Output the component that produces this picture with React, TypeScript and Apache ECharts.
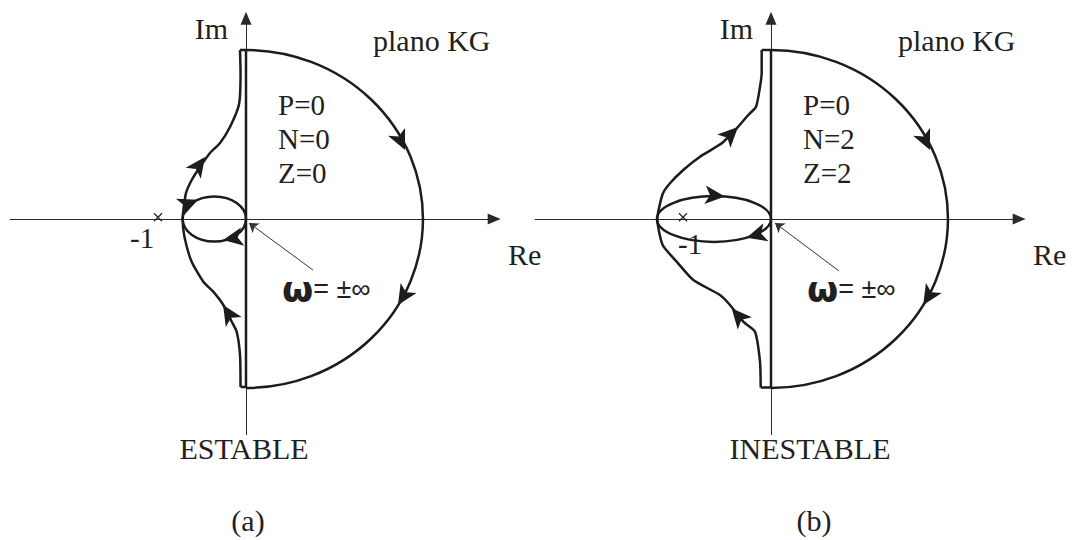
import React, { useEffect, useRef } from "react";
import * as echarts from "echarts";

// ---------- data (complex plane, 1 unit = distance from 0 to -1) ----------
const X_RANGE = [-2.68, 2.82];
const Y_RANGE = [-2.45, 2.28];

// Large right half-circle of the Nyquist contour: [centre Re, centre Im, radius Re, radius Im]
const SEMICIRCLE: number[] = [0, 0, 2.011, 1.92];

// Panel (a) – stable
const IMAG_A: number[][] = [[-0.068, 1.92], [0, 1.92], [0, -1.91], [-0.062, -1.91]];
const CURVE_A: number[][] = [
  [-0.068, 1.92], [-0.062, 1.66], [-0.08, 1.3], [-0.182, 1.045], [-0.295, 0.864], [-0.409, 0.75],
  [-0.523, 0.591], [-0.617, 0.443], [-0.682, 0.295], [-0.707, 0.136], [-0.72, 0], [-0.7, -0.2],
  [-0.62, -0.48], [-0.485, -0.712], [-0.372, -0.826], [-0.258, -0.977], [-0.162, -1.167],
  [-0.106, -1.281], [-0.068, -1.545], [-0.062, -1.91],
];
// small closed loop: [centre Re, centre Im, radius Re, radius Im]
const LOOP_A: number[] = [-0.36, 0, 0.36, 0.256];
// [re, im, direction in degrees]
const ARROWS_A: number[][] = [
  [1.807, 0.784, -65], [1.727, -0.977, -122], [-0.466, 0.705, 54], [-0.26, -0.977, 122],
  [-0.545, 0.22, 23], [-0.261, -0.24, 190],
];
const POINTER_A: number[][] = [[0.761, -0.58], [0.034, -0.045]];

// Panel (b) – unstable
const IMAG_B: number[][] = [[-0.106, 1.92], [0, 1.92], [0, -1.915], [-0.117, -1.915]];
const CURVE_B: number[][] = [
  [-0.106, 1.92], [-0.106, 1.656], [-0.125, 1.503], [-0.17, 1.276], [-0.258, 1.182], [-0.39, 1.031],
  [-0.56, 0.86], [-0.807, 0.708], [-0.997, 0.557], [-1.148, 0.406], [-1.231, 0.284], [-1.292, 0],
  [-1.231, -0.295], [-1.072, -0.485], [-0.883, -0.693], [-0.58, -0.864], [-0.466, -0.977],
  [-0.315, -1.167], [-0.182, -1.281], [-0.125, -1.622], [-0.117, -1.915],
];
const LOOP_B: number[] = [-0.648, 0, 0.648, 0.26];
const ARROWS_B: number[][] = [
  [1.807, 0.784, -65], [1.73, -0.977, -122], [-0.375, 1.045, 45], [-0.447, -1.015, 131],
  [-0.523, 0.255, -5], [-0.276, -0.213, 196],
];
const POINTER_B: number[][] = [[0.773, -0.591], [0.045, -0.045]];

const CRITICAL_POINT: number[][] = [[-1, 0.02]];

const PANEL_LABELS = [
  { P: "P=0", N: "N=0", Z: "Z=0", verdict: "ESTABLE", tag: "(a)" },
  { P: "P=0", N: "N=2", Z: "Z=2", verdict: "INESTABLE", tag: "(b)" },
];
const AXIS_LABELS = { im: "Im", re: "Re", plane: "plano KG", minusOne: "-1", omega: "ω", omegaRest: "= ±∞" };

// ---------- layout / style ----------
const UNIT = 88; // px per unit
const ORIGINS = [[246, 219], [771, 219]];
const MINUS_ONE_POS = [[130, 238], [678, 244]];
const VERDICT_X = [244, 810];
const TAG_X = [248, 814];
const INK = "#1c1c1c";
const SERIF = "'Liberation Serif', 'Times New Roman', serif";
const SANS_BOLD = "'DejaVu Sans', 'Liberation Sans', Arial, sans-serif";
const SANS = "'Liberation Sans', Arial, sans-serif";

function buildOption() {
  const panels = [
    { imag: IMAG_A, curve: CURVE_A, loop: LOOP_A, arrows: ARROWS_A, pointer: POINTER_A },
    { imag: IMAG_B, curve: CURVE_B, loop: LOOP_B, arrows: ARROWS_B, pointer: POINTER_B },
  ];
  const grids = ORIGINS.map(([ox, oy]) => ({
    left: ox + X_RANGE[0] * UNIT,
    top: oy - Y_RANGE[1] * UNIT,
    width: (X_RANGE[1] - X_RANGE[0]) * UNIT,
    height: (Y_RANGE[1] - Y_RANGE[0]) * UNIT,
    containLabel: false,
    outerBoundsMode: "none",
  }));
  const axisCommon = {
    type: "value",
    axisTick: { show: false },
    axisLabel: { show: false },
    splitLine: { show: false },
  };
  const axisLine = {
    show: true,
    onZero: true,
    symbol: ["none", "triangle"],
    symbolSize: [11, 13],
    lineStyle: { color: "#2a2a2a", width: 1 },
  };
  const xAxis = ORIGINS.map((_, i) => ({ ...axisCommon, gridIndex: i, min: X_RANGE[0], max: X_RANGE[1], axisLine }));
  const yAxis = ORIGINS.map((_, i) => ({ ...axisCommon, gridIndex: i, min: Y_RANGE[0], max: Y_RANGE[1], axisLine }));

  const series: any[] = [];
  const thick = { color: INK, width: 2.5 };
  const strokeStyle = { fill: "none", stroke: INK, lineWidth: 2.5 };
  panels.forEach((p, i) => {
    const base = { xAxisIndex: i, yAxisIndex: i, silent: true };
    series.push({ ...base, type: "line", data: p.imag, symbol: "none", lineStyle: thick, z: 3 });
    // right half-ellipse of the contour
    series.push({
      ...base,
      type: "custom",
      clip: false,
      z: 3,
      data: [SEMICIRCLE],
      renderItem: (_params: any, api: any) => {
        const c = api.coord([api.value(0), api.value(1)]);
        const s = api.size([api.value(2), api.value(3)]);
        return {
          type: "path",
          shape: { pathData: `M${c[0]},${c[1] - s[1]} A${s[0]},${s[1]} 0 0 1 ${c[0]},${c[1] + s[1]}` },
          style: strokeStyle,
        };
      },
    });
    series.push({ ...base, type: "line", data: p.curve, symbol: "none", smooth: 0.2, lineStyle: thick, z: 3 });
    // small closed loop
    series.push({
      ...base,
      type: "custom",
      clip: false,
      z: 3,
      data: [p.loop],
      renderItem: (_params: any, api: any) => {
        const c = api.coord([api.value(0), api.value(1)]);
        const s = api.size([api.value(2), api.value(3)]);
        return { type: "ellipse", shape: { cx: c[0], cy: c[1], rx: s[0], ry: s[1] }, style: strokeStyle };
      },
    });
    series.push({
      ...base,
      type: "scatter",
      symbol: "arrow",
      symbolSize: [14, 20],
      itemStyle: { color: INK, opacity: 1 },
      z: 5,
      data: p.arrows.map(([x, y, a]) => ({ value: [x, y], symbolRotate: a - 90 })),
    });
    series.push({
      ...base,
      type: "scatter",
      symbol: "path://M0,0L10,10M10,0L0,10",
      symbolSize: 8,
      itemStyle: { color: "transparent", borderColor: "#222", borderWidth: 1.2, opacity: 1 },
      data: CRITICAL_POINT,
      z: 4,
    });
    series.push({
      ...base,
      type: "lines",
      coordinateSystem: "cartesian2d",
      symbol: ["none", "arrow"],
      symbolSize: 9,
      lineStyle: { color: "#333", width: 1, opacity: 1, curveness: 0 },
      data: [{ coords: p.pointer }],
      z: 4,
    });
  });

  const graphic: any[] = [];
  const txt = (x: number, y: number, text: string, size: number, align = "left") => ({
    type: "text",
    x,
    y,
    silent: true,
    style: { text, fontSize: size, fontFamily: SERIF, fill: "#231f20", align, verticalAlign: "middle" },
  });
  ORIGINS.forEach(([ox], i) => {
    const L = PANEL_LABELS[i];
    graphic.push(txt(ox - 18, 28, AXIS_LABELS.im, 30, "right"));
    graphic.push(txt(ox + 127, 40, AXIS_LABELS.plane, 30));
    graphic.push(txt(ox + 32, 105, L.P, 29));
    graphic.push(txt(ox + 32, 139, L.N, 29));
    graphic.push(txt(ox + 32, 173, L.Z, 29));
    graphic.push(txt(ox + 262, 254, AXIS_LABELS.re, 30));
    graphic.push(txt(MINUS_ONE_POS[i][0], MINUS_ONE_POS[i][1], AXIS_LABELS.minusOne, 29));
    graphic.push({
      type: "text",
      x: ox + 36,
      y: 289,
      silent: true,
      style: {
        text: `{w|${AXIS_LABELS.omega}}{r|${AXIS_LABELS.omegaRest}}`,
        verticalAlign: "middle",
        align: "left",
        fill: "#231f20",
        rich: {
          w: { fontFamily: SANS_BOLD, fontWeight: "bold", fontSize: 36, fill: "#231f20" },
          r: { fontFamily: SANS, fontSize: 27, fill: "#231f20" },
        },
      },
    });
    graphic.push(txt(VERDICT_X[i], 448, L.verdict, 30, "center"));
    graphic.push(txt(TAG_X[i], 520, L.tag, 30, "center"));
  });

  return {
    animation: false,
    backgroundColor: "#ffffff",
    grid: grids,
    xAxis,
    yAxis,
    series,
    graphic,
  };
}

export default function App() {
  const ref = useRef<HTMLDivElement>(null);
  useEffect(() => {
    if (!ref.current) return;
    const chart = echarts.init(ref.current, undefined, { renderer: "svg" });
    chart.setOption(buildOption() as any);
    return () => chart.dispose();
  }, []);
  return (
    <div
      ref={ref}
      style={{ position: "fixed", left: 0, top: 0, width: 1081, height: 540, background: "#fff" }}
    />
  );
}
